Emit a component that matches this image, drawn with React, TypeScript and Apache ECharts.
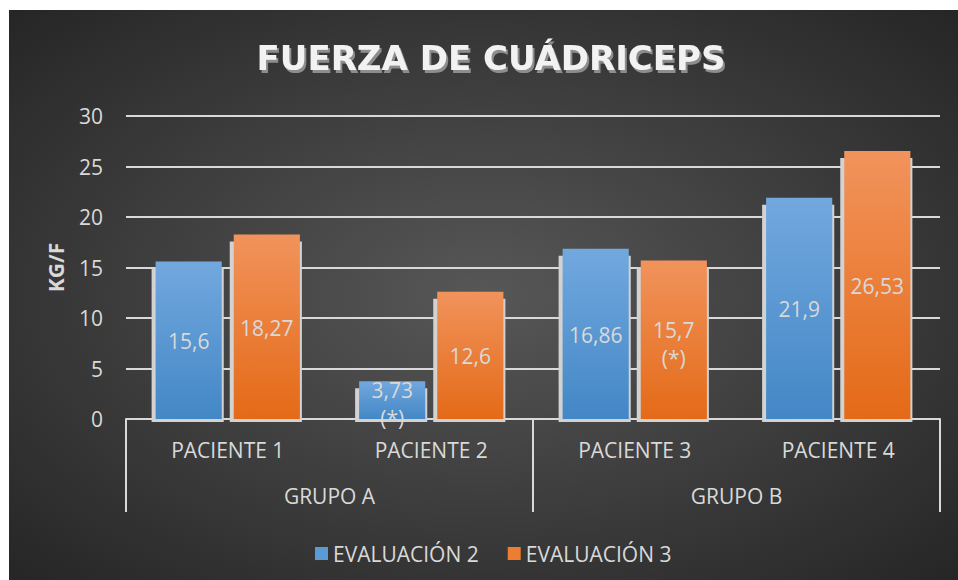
import React, { useEffect, useRef } from 'react';
import * as echarts from 'echarts';

const patients = ['PACIENTE 1', 'PACIENTE 2', 'PACIENTE 3', 'PACIENTE 4'];
const groups = ['GRUPO A', 'GRUPO B'];
const seriesNames = ['EVALUACIÓN 2', 'EVALUACIÓN 3'];
const eval2 = [15.6, 3.73, 16.86, 21.9];
const eval3 = [18.27, 12.6, 15.7, 26.53];
const eval2Notes = ['', '(*)', '', ''];
const eval3Notes = ['', '', '(*)', ''];
const yMin = 0;
const yMax = 30;
const yStep = 5;

const TEXT = '#d9d9d9';
const FONT = '"Open Sans", sans-serif';

const blueGrad = () =>
  new echarts.graphic.LinearGradient(0, 0, 0, 1, [
    { offset: 0, color: '#72a8de' },
    { offset: 1, color: '#4387c6' },
  ]);
const orangeGrad = () =>
  new echarts.graphic.LinearGradient(0, 0, 0, 1, [
    { offset: 0, color: '#f1935c' },
    { offset: 1, color: '#e46a17' },
  ]);

function makeRender(values: number[], notes: string[], side: number, grad: () => any) {
  return (params: any, api: any) => {
    const i = params.dataIndex;
    const v = values[i];
    const band = api.size([1, 0])[0];
    const w = band * 0.325;
    const gap = band * 0.059;
    const top = api.coord([i, v]);
    const base = api.coord([i, 0]);
    const cx = top[0] + (side * (w + gap)) / 2;
    const x = cx - w / 2;
    const yTop = top[1];
    const yBase = base[1];
    const label = String(v).replace('.', ',') + (notes[i] ? '\n' + notes[i] : '');
    return {
      type: 'group',
      children: [
        {
          type: 'rect',
          shape: { x: x - 4, y: yTop + 7, width: w + 6, height: yBase - yTop - 4 },
          style: { fill: '#d2d2d2' },
        },
        {
          type: 'rect',
          shape: { x: x, y: yTop, width: w, height: yBase - yTop },
          style: { fill: grad() },
        },
        {
          type: 'text',
          x: cx,
          y: (yTop + yBase) / 2 + (notes[i] ? 4 : 1),
          style: {
            text: label,
            fill: TEXT,
            fontSize: 21,
            fontFamily: FONT,
            align: 'center',
            verticalAlign: 'middle',
            lineHeight: 28,
          },
        },
      ],
    };
  };
}

export default function App() {
  const ref = useRef<HTMLDivElement>(null);
  useEffect(() => {
    if (!ref.current) return;
    const chart = echarts.init(ref.current, undefined, { renderer: 'svg' });
    chart.setOption({
      animation: false,
      graphic: [
        {
          type: 'rect',
          z: -100,
          silent: true,
          shape: { x: 9, y: 10, width: 949, height: 570 },
          style: {
            fill: new echarts.graphic.RadialGradient(0.5, 0.5, 0.7, [
              { offset: 0, color: '#575757' },
              { offset: 1, color: '#262626' },
            ]),
          },
        },
      ],
      title: {
        text: 'FUERZA DE CUÁDRICEPS',
        left: 486,
        textAlign: 'center',
        top: 36,
        textStyle: {
          color: '#f2f2f2',
          fontFamily: '"DejaVu Sans", sans-serif',
          fontWeight: 'bold',
          fontSize: 34,
          textShadowColor: 'rgba(150,150,150,0.9)',
          textShadowOffsetX: 2,
          textShadowOffsetY: 3,
          textShadowBlur: 1,
        },
      },
      legend: {
        left: 310,
        top: 538,
        itemWidth: 13,
        itemHeight: 13,
        itemGap: 29,
        icon: 'rect',
        data: seriesNames,
        textStyle: { color: TEXT, fontSize: 21, fontFamily: FONT },
      },
      grid: { left: 126, right: 18, top: 116, bottom: 161, containLabel: false },
      xAxis: [
        {
          type: 'category',
          data: patients,
          position: 'bottom',
          axisLine: { show: true, lineStyle: { color: TEXT, width: 2 } },
          axisTick: { show: false },
          axisLabel: { color: TEXT, fontSize: 21, fontFamily: FONT, margin: 20 },
        },
        {
          type: 'category',
          data: groups,
          position: 'bottom',
          axisLine: { show: false },
          axisTick: { show: true, length: 93, lineStyle: { color: TEXT, width: 2 } },
          axisLabel: { color: TEXT, fontSize: 21, fontFamily: FONT, margin: 66 },
        },
      ],
      yAxis: {
        type: 'value',
        min: yMin,
        max: yMax,
        interval: yStep,
        name: 'KG/F',
        nameLocation: 'middle',
        nameRotate: 90,
        nameGap: 60,
        nameTextStyle: { color: TEXT, fontSize: 21, fontWeight: 'bold', fontFamily: FONT },
        axisLine: { show: false },
        axisTick: { show: false },
        axisLabel: { color: TEXT, fontSize: 21, fontFamily: FONT, margin: 23 },
        splitLine: { show: true, lineStyle: { color: TEXT, width: 2 } },
      },
      series: [
        {
          name: seriesNames[0],
          type: 'custom',
          xAxisIndex: 0,
          itemStyle: { color: '#5b9bd5' },
          data: eval2.map((v, i) => [i, v]),
          renderItem: makeRender(eval2, eval2Notes, -1, blueGrad),
          z: 3,
        },
        {
          name: seriesNames[1],
          type: 'custom',
          xAxisIndex: 0,
          itemStyle: { color: '#ed7d31' },
          data: eval3.map((v, i) => [i, v]),
          renderItem: makeRender(eval3, eval3Notes, 1, orangeGrad),
          z: 3,
        },
      ],
    });
    return () => chart.dispose();
  }, []);
  return (
    <div
      ref={ref}
      style={{ position: 'absolute', left: 0, top: 0, width: 958, height: 580 }}
    />
  );
}
